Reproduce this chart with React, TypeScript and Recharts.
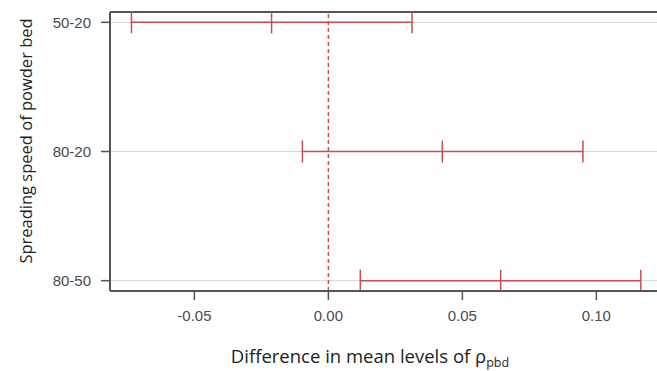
import { ComposedChart, XAxis, YAxis, Scatter, ErrorBar, CartesianGrid, ReferenceLine } from "recharts"

const comparisons = ["50-20", "80-20", "80-50"]
const diffLower = [-0.0735, -0.0097, 0.0119]
const diffMean = [-0.0212, 0.0425, 0.0643]
const diffUpper = [0.0312, 0.095, 0.1166]
const xTicks = [-0.05, 0, 0.05, 0.1]

const RED = "#cc4d4d"
const FRAME = "#555"
const X_DOMAIN = [-0.0815, 0.1245]
const Y_DOMAIN = [0.92, 3.08]

const data = comparisons.map((name, i) => ({
  name,
  row: i + 1,
  mean: diffMean[i],
  err: [diffMean[i] - diffLower[i], diffUpper[i] - diffMean[i]],
}))

const MeanTick = (props: any) => {
  const { cx, cy } = props
  return <line x1={cx} x2={cx} y1={cy - 11} y2={cy + 11} stroke={RED} strokeWidth={1.5} />
}

const XTitle = (props: any) => {
  const { viewBox } = props
  const cx = viewBox.x + viewBox.width / 2 - 16
  return (
    <text x={cx} y={363} textAnchor="middle" fontFamily="Open Sans" fontSize={18.5} fill="#222">
      Difference in mean levels of ρ
      <tspan fontSize={12.5} dy={4}>pbd</tspan>
    </text>
  )
}

const YTitle = () => (
  <text
    x={0}
    y={0}
    transform="translate(32,141) rotate(-90)"
    textAnchor="middle"
    fontFamily="Open Sans"
    fontSize={16.5}
    fill="#222"
  >
    Spreading speed of powder bed
  </text>
)

export default function App() {
  const tickStyle = { fontFamily: "Liberation Sans", fontSize: 15, fill: "#4a4a4a" }
  return (
    <div style={{ position: "absolute", left: 0, top: 0, width: 657, height: 371, overflow: "hidden", background: "#fff" }}>
      <ComposedChart width={670} height={371} data={data} margin={{ top: 12, right: 8, bottom: 0, left: 0 }}>
        <CartesianGrid horizontal vertical={false} stroke="#d6d6d6" />
        <XAxis
          type="number"
          dataKey="mean"
          domain={X_DOMAIN}
          ticks={xTicks}
          tickFormatter={(v: number) => v.toFixed(2)}
          height={80}
          tickSize={9}
          tickMargin={10}
          tick={tickStyle}
          axisLine={{ stroke: FRAME, strokeWidth: 2 }}
          tickLine={{ stroke: FRAME, strokeWidth: 1.5 }}
          label={<XTitle />}
          allowDataOverflow
        />
        <YAxis
          type="number"
          dataKey="row"
          domain={Y_DOMAIN}
          reversed
          ticks={[1, 2, 3]}
          tickFormatter={(v: number) => comparisons[v - 1] ?? ""}
          width={110}
          tickSize={9}
          tickMargin={10}
          tick={tickStyle}
          axisLine={{ stroke: FRAME, strokeWidth: 2 }}
          tickLine={{ stroke: FRAME, strokeWidth: 1.5 }}
          label={<YTitle />}
          allowDataOverflow
        />
        <ReferenceLine y={Y_DOMAIN[0]} stroke={FRAME} strokeWidth={2} />
        <ReferenceLine x={0} stroke={RED} strokeWidth={1.5} strokeDasharray="4 3" />
        <Scatter dataKey="row" shape={<MeanTick />} isAnimationActive={false}>
          <ErrorBar dataKey="err" direction="x" width={11} stroke={RED} strokeWidth={1.5} isAnimationActive={false} />
        </Scatter>
      </ComposedChart>
    </div>
  )
}
